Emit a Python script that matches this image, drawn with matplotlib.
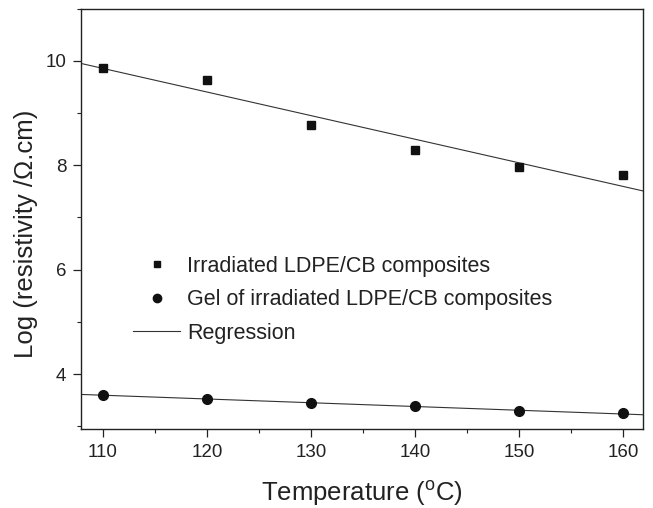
import numpy as np
import matplotlib
matplotlib.use("Agg")
import matplotlib.pyplot as plt
from matplotlib.lines import Line2D
from matplotlib.ticker import MultipleLocator

plt.rcParams['font.family'] = ['Liberation Sans', 'DejaVu Sans']

temperature = [110, 120, 130, 140, 150, 160]
irradiated = [9.87, 9.64, 8.77, 8.29, 7.96, 7.81]
gel = [3.60, 3.53, 3.44, 3.39, 3.29, 3.25]
x_ticks = [110, 120, 130, 140, 150, 160]
y_ticks = [4, 6, 8, 10]
labels = ["Irradiated LDPE/CB composites", "Gel of irradiated LDPE/CB composites", "Regression"]

W, H = 653, 508
fig = plt.figure(figsize=(W / 100, H / 100), dpi=100)
ax = fig.add_axes([81 / W, 1 - 429 / H, (643 - 81) / W, (429 - 8.5) / H])

xlim = (107.9, 161.9)
ax.set_xlim(*xlim)
ax.set_ylim(2.95, 11.0)

lc = '#333333'
xx = np.array(xlim)
for ys in (irradiated, gel):
    k, b = np.polyfit(temperature, ys, 1)
    ax.plot(xx, k * xx + b, color=lc, lw=0.8, zorder=2)

ax.plot(temperature, irradiated, 's', color='#111111', ms=6.2, zorder=3)
ax.plot(temperature, gel, 'o', color='#111111', ms=7, zorder=3)

ax.set_xticks(x_ticks)
ax.set_yticks(y_ticks)
ax.xaxis.set_minor_locator(MultipleLocator(5))
ax.yaxis.set_minor_locator(MultipleLocator(1))
ax.tick_params(which='major', direction='out', length=5.5, width=0.9, labelsize=13.5, pad=5,
               color='#222222', labelcolor='#222222')
ax.tick_params(which='minor', direction='out', length=3, width=0.8, color='#222222')
for s in ax.spines.values():
    s.set_linewidth(1.0)
    s.set_color('#222222')

ax.set_xlabel("Temperature ($\\mathregular{^{o}}$C)", fontsize=18.5, labelpad=13, color='#222222')
ax.set_ylabel("Log (resistivity /\u03a9.cm)", fontsize=18.5, color='#222222')
ax.yaxis.set_label_coords(-0.077, 0.465)

handles = [
    Line2D([], [], ls='none', marker='s', color='#111111', ms=5),
    Line2D([], [], ls='none', marker='o', color='#111111', ms=6),
    Line2D([], [], color=lc, lw=0.8),
]
fig.legend(handles, labels, loc='center left', bbox_to_anchor=(133 / W, 1 - 300 / H),
           frameon=False, fontsize=15.5, handlelength=2.2, handletextpad=0.3,
           labelspacing=0.58, borderpad=0, borderaxespad=0, labelcolor='#222222')

fig.savefig("out.png", dpi=100)
